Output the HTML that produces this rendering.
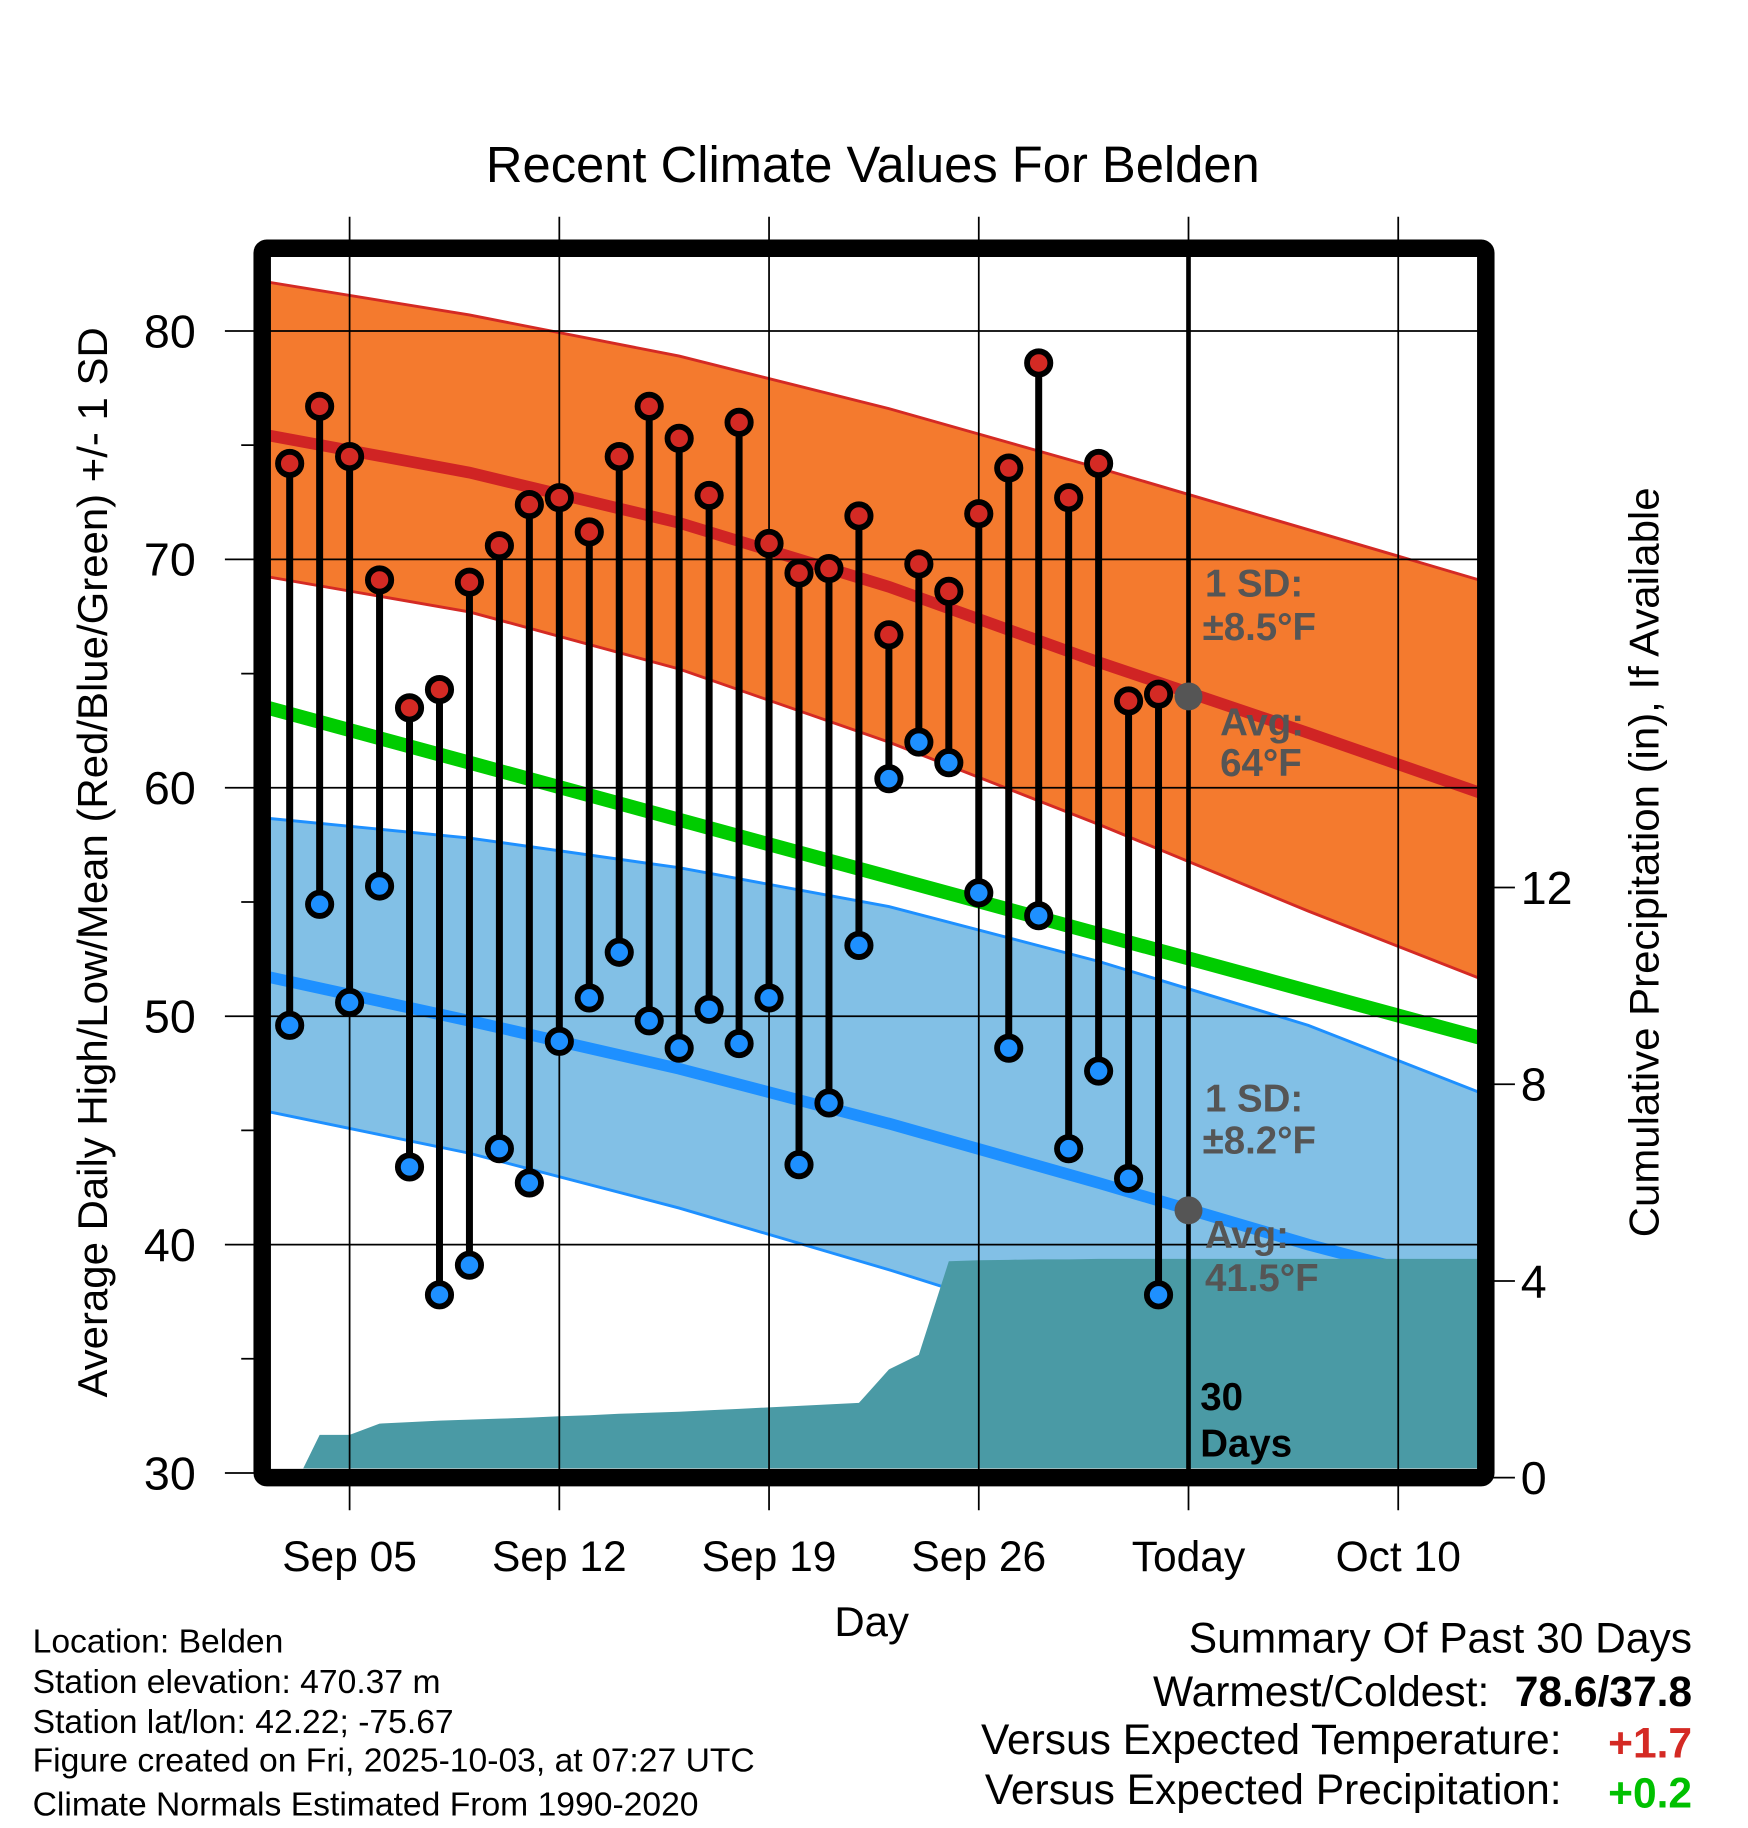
<!DOCTYPE html>
<html><head><meta charset="utf-8"><style>
html,body{margin:0;padding:0;background:#fff}
svg{display:block;font-family:"Liberation Sans",Arial,sans-serif}
</style></head><body>
<svg id="chart" width="1748" height="1828" viewBox="0 0 1500 1568.6" xmlns="http://www.w3.org/2000/svg">
<defs><clipPath id="plotclip"><rect x="232" y="220" width="1036" height="1040"/></clipPath></defs>
<rect width="1500" height="1568.6" fill="#fff"/>
<text x="749" y="156" font-size="43.5" text-anchor="middle">Recent Climate Values For Belden</text>
<g id="bands" clip-path="url(#plotclip)"></g>
<g id="grid"></g>
<g id="marks"></g>
<g id="annot"></g>
<rect x="225" y="213" width="1050" height="1055" fill="none" stroke="#000" stroke-width="15" rx="4"/>
<g id="axes"></g>
<text transform="translate(92,740) rotate(-90)" font-size="36" text-anchor="middle">Average Daily High/Low/Mean (Red/Blue/Green) +/- 1 SD</text>
<text transform="translate(1423,740) rotate(-90)" font-size="36" text-anchor="middle">Cumulative Precipitation (in), If Available</text>
<text x="748" y="1404" font-size="36" text-anchor="middle">Day</text>
<g font-size="28.9">
<text x="28" y="1418">Location: Belden</text>
<text x="28" y="1453">Station elevation: 470.37 m</text>
<text x="28" y="1487">Station lat/lon: 42.22; -75.67</text>
<text x="28" y="1520">Figure created on Fri, 2025-10-03, at 07:27 UTC</text>
<text x="28" y="1558">Climate Normals Estimated From 1990-2020</text>
</g>
<g font-size="36.5">
<text x="1452" y="1418" text-anchor="end">Summary Of Past 30 Days</text>
<text x="1278" y="1464" text-anchor="end">Warmest/Coldest:</text>
<text x="1452" y="1464" text-anchor="end" font-weight="bold">78.6/37.8</text>
<text x="1340" y="1505" text-anchor="end">Versus Expected Temperature:</text>
<text x="1452" y="1508" text-anchor="end" font-weight="bold" fill="#d42a24">+1.7</text>
<text x="1340" y="1548" text-anchor="end">Versus Expected Precipitation:</text>
<text x="1452" y="1551" text-anchor="end" font-weight="bold" fill="#00c000">+0.2</text>
</g>
</svg>
<script>
// ---- data ----
const obsDays = [3,4,5,6,7,8,9,10,11,12,13,14,15,16,17,18,19,20,21,22,23,24,25,26,27,28,29,30,31,32];
const highs = [74.2,76.7,74.5,69.1,63.5,64.3,69.0,70.6,72.4,72.7,71.2,74.5,76.7,75.3,72.8,76.0,70.7,69.4,69.6,71.9,66.7,69.8,68.6,72.0,74.0,78.6,72.7,74.2,63.8,64.1];
const lows = [49.6,54.9,50.6,55.7,43.4,37.8,39.1,44.2,42.7,48.9,50.8,52.8,49.8,48.6,50.3,48.8,50.8,43.5,46.2,53.1,60.4,62.0,61.1,55.4,48.6,54.4,44.2,47.6,42.9,37.8];
const precipCum = [0,0.87,0.87,1.1,1.13,1.16,1.18,1.2,1.22,1.25,1.27,1.3,1.32,1.34,1.37,1.4,1.43,1.46,1.49,1.52,2.2,2.5,4.4,4.42,4.43,4.44,4.44,4.45,4.45,4.45];
const normDays = [2,9,16,23,30,37,44];
const hiUpper = [82.2,80.7,78.9,76.6,74.0,71.3,68.6];
const hiMean  = [75.5,73.8,71.6,68.8,65.5,62.4,59.2];
const hiLower = [69.3,67.7,65.2,62.0,58.4,54.6,51.0];
const meanT   = [63.6,61.1,58.6,56.1,53.6,51.1,48.6];
const loUpper = [58.7,57.8,56.5,54.8,52.4,49.6,46.0];
const loMean  = [51.8,49.8,47.7,45.3,42.7,40.0,37.6];
const loLower = [45.9,44.0,41.6,38.9,36.0,33.5,31.5];
const yTicks = [30,40,50,60,70,80];
const y2Ticks = [0,4,8,12];
const xTickDays = [5,12,19,26,33,40];
const xTickLabels = ["Sep 05","Sep 12","Sep 19","Sep 26","Today","Oct 10"];
// ---- scales ----
const X = d => 300 + (d-5)*25.71;
const Y = v => 1264 - (v-30)*19.6;
const Y2 = p => 1268 - p*42.2;
const NS = "http://www.w3.org/2000/svg";
function mk(tag, attrs, parent){const e=document.createElementNS(NS,tag);for(const k in attrs)e.setAttribute(k,attrs[k]);parent.appendChild(e);return e;}
const bands=document.getElementById('bands'),grid=document.getElementById('grid'),marks=document.getElementById('marks'),annot=document.getElementById('annot'),axes=document.getElementById('axes');
const pts = arr => normDays.map((d,i)=>X(d)+','+Y(arr[i]));
function band(up,lo,fill,edge,name){
  const p=mk('polygon',{points:pts(up).concat(pts(lo).reverse()).join(' '),fill:fill},bands);
  
  
  [up,lo].forEach(a=>{const l=mk('polyline',{points:pts(a).join(' '),fill:'none',stroke:edge,'stroke-width':2.5},bands);
  
  });
}
function line(arr,col,w,name){const l=mk('polyline',{points:pts(arr).join(' '),fill:'none',stroke:col,'stroke-width':w},bands);
  
  }
band(hiUpper,hiLower,'#f47a2e','#d42a24','high-sd-band');
band(loUpper,loLower,'#82c0e6','#1e90ff','low-sd-band');
line(hiMean,'#d02424',10,'normal-high-line');
line(meanT,'#00cc00',12,'normal-mean-line');
line(loMean,'#1e90ff',10,'normal-low-line');
// precip
let pp=[X(3.3)+','+Y2(0)];
obsDays.forEach((d,i)=>{ if(i>0) pp.push(X(d)+','+Y2(precipCum[i])); });
pp.push('1268,'+Y2(precipCum[precipCum.length-1]),'1268,1262','232,1262');
const pg=mk('polygon',{points:pp.join(' '),fill:'#4a9aa5'},bands);


// grid
yTicks.forEach(v=>{const l=mk('line',{x1:193,x2:1268,y1:Y(v),y2:Y(v),stroke:'#000','stroke-width':1.5},grid);
  
  
  if(v<80){const m=mk('line',{x1:207,x2:225,y1:Y(v+5),y2:Y(v+5),stroke:'#000','stroke-width':1.5},grid);
  
  }
  const t=mk('text',{x:168,y:Y(v)+14,'font-size':40,'text-anchor':'end'},axes);t.textContent=v;
  
  });
y2Ticks.forEach(p=>{const l=mk('line',{x1:1275,x2:1300,y1:Y2(p),y2:Y2(p),stroke:'#000','stroke-width':1.5},axes);
  
  
  const t=mk('text',{x:1305,y:Y2(p)+14,'font-size':40},axes);t.textContent=p;
  
  });
xTickDays.forEach((d,i)=>{const l=mk('line',{x1:X(d),x2:X(d),y1:186,y2:1296,stroke:'#000','stroke-width':1.5},grid);
  
  
  const t=mk('text',{x:X(d),y:1348,'font-size':36.5,'text-anchor':'middle'},axes);t.textContent=xTickLabels[i];
  
  });
// today line
const tl=mk('line',{x1:X(33),x2:X(33),y1:220,y2:1262,stroke:'#000','stroke-width':4},marks);


// stems & markers
obsDays.forEach((d,i)=>{
  const s=mk('line',{x1:X(d),x2:X(d),y1:Y(highs[i]),y2:Y(lows[i]),stroke:'#000','stroke-width':6},marks);
  
  
});
obsDays.forEach((d,i)=>{
  const h=mk('circle',{cx:X(d),cy:Y(highs[i]),r:10,fill:'#d42a24',stroke:'#000','stroke-width':5},marks);
  
  
  const l=mk('circle',{cx:X(d),cy:Y(lows[i]),r:10,fill:'#1e90ff',stroke:'#000','stroke-width':5},marks);
  
  
});
// annotations
[[64,'today-avg-high-dot'],[41.5,'today-avg-low-dot']].forEach(a=>{const c=mk('circle',{cx:X(33),cy:Y(a[0]),r:12,fill:'#555'},annot);
  
  });
const labels=[[1034,512,'1 SD:','#555'],[1032,549,'±8.5°F','#555'],[1047,631,'Avg:','#555'],[1047,666,'64°F','#555'],
[1034,954,'1 SD:','#555'],[1032,990,'±8.2°F','#555'],[1034,1071,'Avg:','#555'],[1034,1108,'41.5°F','#555'],[1030,1210,'30','#000'],[1030,1250,'Days','#000']];
labels.forEach(l=>{const t=mk('text',{x:l[0],y:l[1],'font-size':33,'font-weight':'bold',fill:l[3]},annot);t.textContent=l[2];
  
  });
</script>
</body></html>
